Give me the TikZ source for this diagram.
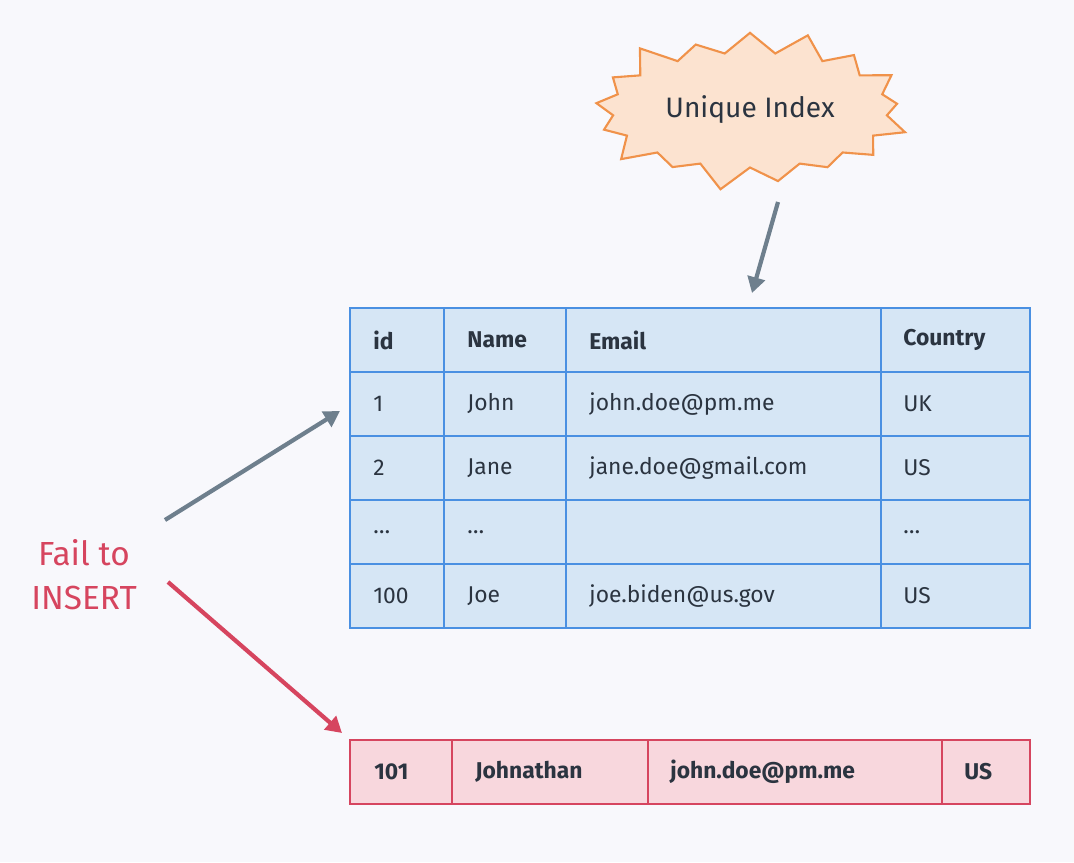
\documentclass[tikz,border=0pt]{standalone}
\usepackage{fontspec}
\setmainfont{Fira Sans}
\usetikzlibrary{shapes.symbols,arrows.meta}
\definecolor{bgcol}{HTML}{F8F8FC}
\definecolor{tblue}{HTML}{4A90E2}
\definecolor{tfill}{HTML}{D6E6F5}
\definecolor{rline}{HTML}{D6455F}
\definecolor{rfill}{HTML}{F8D7DD}
\definecolor{sline}{HTML}{F0924A}
\definecolor{sfill}{HTML}{FCE3D0}
\definecolor{agray}{HTML}{6E7F8D}
\definecolor{ink}{HTML}{2B3440}
\begin{document}
\begin{tikzpicture}[x=0.02cm,y=-0.02cm,
cell_style/.style={anchor=west,inner sep=0pt,text=ink,font=\fontsize{13}{15}\selectfont},
head_style/.style={cell_style,font=\fontsize{13}{15}\selectfont\bfseries},
arrow_style/.style={line width=2.4pt,-{Triangle[length=9pt,width=10pt]}},
burst_style/.style={starburst,starburst points=17,starburst point height=0.55cm,draw=sline,fill=sfill,line width=1.2pt,minimum width=6.6cm,minimum height=3.4cm,text=ink,font=\fontsize{16}{18}\selectfont}]
\fill[bgcol] (0,0) rectangle (1074,862);
% table
\draw[tblue,fill=tfill,line width=1.4pt] (350,308) rectangle (1030,628);
\foreach \y in {372,436,500,564} \draw[tblue,line width=1.4pt] (350,\y) -- (1030,\y);
\foreach \x in {444,566,881} \draw[tblue,line width=1.4pt] (\x,308) -- (\x,628);
\node[head_style] (h1) at (373,340) {id};
\node[head_style] (h2) at (467,340) {Name};
\node[head_style] (h3) at (589,340) {Email};
\node[head_style] (h4) at (903,340) {Country};
\foreach \y/\a/\b/\c/\d [count=\r] in {404/1/John/john.doe@pm.me/UK,468/2/Jane/jane.doe@gmail.com/US,532/{\ldots}/{\ldots}/{}/{\ldots},596/100/Joe/joe.biden@us.gov/US} {
  \node[cell_style] (r\r a) at (373,\y) {\a};
  \node[cell_style] (r\r b) at (467,\y) {\b};
  \node[cell_style] (r\r c) at (589,\y) {\c};
  \node[cell_style] (r\r d) at (903,\y) {\d};
}
% failed row
\draw[rline,fill=rfill,line width=1.4pt] (350,740) rectangle (1030,804);
\foreach \x in {452,648,942} \draw[rline,line width=1.4pt] (\x,740) -- (\x,804);
\node[head_style] (n1) at (374,772) {101};
\node[head_style] (n2) at (475,772) {Johnathan};
\node[head_style] (n3) at (670,772) {john.doe@pm.me};
\node[head_style] (n4) at (964,772) {US};
% labels
\node[burst_style] (idx) at (750,110) {Unique Index};
\node[text=rline,align=center,font=\fontsize{19}{25}\selectfont] (fail) at (84,575) {Fail to\\INSERT};
\coordinate (idxend) at (778,202);
\coordinate (tbltop) at (752,293);
\coordinate (upstart) at (165,520);
\coordinate (upend) at (340,411);
\coordinate (downstart) at (168,582);
\coordinate (downend) at (342,733);
\draw[arrow_style,agray] (idxend) -- (tbltop);
\draw[arrow_style,agray] (upstart) -- (upend);
\draw[arrow_style,rline] (downstart) -- (downend);
\end{tikzpicture}
\end{document}
